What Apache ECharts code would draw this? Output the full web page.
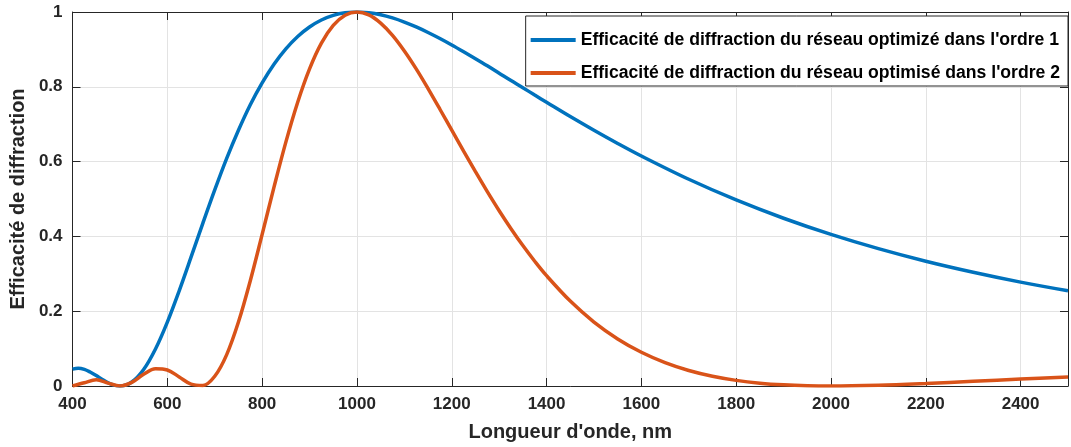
<!DOCTYPE html>
<html>
<head>
<meta charset="utf-8">
<script src="https://cdn.jsdelivr.net/npm/echarts@6/dist/echarts.min.js"></script>
<style>html,body{margin:0;padding:0;background:#fff;}#c{width:1071px;height:447px;}</style>
</head>
<body>
<div id="c"></div>
<script>
var wl1 = [400,412,425,437,450,462,475,487,500,525,550,575,600,625,650,675,700,725,750,775,800,825,850,875,900,925,950,975,1000,1025,1050,1075,1100,1125,1150,1175,1200,1225,1250,1275,1300,1325,1350,1375,1400,1450,1500,1550,1600,1700,1800,1900,2000,2100,2200,2300,2400,2500];
var eff1 = [0.0450,0.0473,0.0444,0.0375,0.0280,0.0182,0.0087,0.0025,0,0.0108,0.0442,0.0991,0.1710,0.2546,0.3444,0.4356,0.5243,0.6080,0.6839,0.7521,0.8106,0.8606,0.9016,0.9347,0.9600,0.9787,0.9909,0.9978,1.0,0.9980,0.9926,0.9841,0.9731,0.9600,0.9452,0.9291,0.9119,0.8938,0.8752,0.8562,0.8365,0.8167,0.7976,0.7779,0.7587,0.7205,0.6839,0.6486,0.6150,0.5528,0.4975,0.4485,0.4053,0.3672,0.3336,0.3041,0.2778,0.2546];
var wl2 = [400,425,450,475,500,525,550,575,600,625,650,675,700,725,750,775,800,825,850,875,900,925,950,975,1000,1025,1050,1075,1100,1125,1150,1175,1200,1225,1250,1275,1300,1325,1350,1375,1400,1450,1500,1550,1600,1650,1700,1750,1800,1850,1900,1950,2000,2100,2200,2300,2400,2500];
var eff2 = [0,0.0088,0.0165,0.0078,0,0.0098,0.0313,0.0461,0.0428,0.0243,0.0050,0.0015,0.0260,0.0833,0.1710,0.2816,0.4053,0.5316,0.6520,0.7587,0.8478,0.9166,0.9641,0.9914,1.0,0.9922,0.9702,0.9375,0.8957,0.8478,0.7951,0.7400,0.6839,0.6280,0.5729,0.5197,0.4687,0.4207,0.3755,0.3336,0.2949,0.2270,0.1710,0.1259,0.0901,0.0624,0.0414,0.0260,0.0150,0.0076,0.0031,0.0007,0,0.0021,0.0068,0.0126,0.0186,0.0243];
var name1 = "Efficacité de diffraction du réseau optimizé dans l'ordre 1";
var name2 = "Efficacité de diffraction du réseau optimisé dans l'ordre 2";
var xTitle = "Longueur d'onde, nm";
var yTitle = "Efficacité de diffraction";

function pairs(xs, ys){ return xs.map(function(x,i){ return [x, ys[i]]; }); }

var FONT = "'Liberation Sans', Arial, sans-serif";
var axisColor = '#262626';
var chart = echarts.init(document.getElementById('c'), null, {renderer:'canvas'});
chart.setOption({
  animation: false,
  backgroundColor: '#ffffff',
  grid: {left: 68, right: 3, top: 12, bottom: 61, containLabel: false},
  legend: {
    right: 3, top: 16, orient: 'vertical',
    backgroundColor: '#ffffff', borderColor: axisColor, borderWidth: 1,
    padding: [14, 8, 3, 5], itemGap: 13,
    itemWidth: 45, itemHeight: 4, icon: 'rect',
    textStyle: {fontFamily: FONT, fontWeight: 'bold', fontSize: 17.6, lineHeight: 20, color: '#000'},
    data: [name1, name2]
  },
  xAxis: [{
    type: 'value', min: 400, max: 2500, interval: 200,
    name: xTitle, nameLocation: 'middle', nameGap: 36,
    nameTextStyle: {fontFamily: FONT, fontWeight: 'bold', fontSize: 20, color: axisColor},
    axisLine: {show: true, onZero: false, lineStyle: {color: axisColor, width: 1}},
    axisTick: {show: true, inside: true, length: 8, lineStyle: {color: axisColor}},
    axisLabel: {fontFamily: FONT, fontWeight: 'bold', fontSize: 17, color: axisColor, margin: 10, showMaxLabel: false,
      formatter: function(v){ return String(v); }},
    splitLine: {show: true, lineStyle: {color: '#e3e3e3', width: 1}}
  },{
    type: 'value', min: 400, max: 2500, interval: 200, position: 'top',
    axisLine: {show: true, onZero: false, lineStyle: {color: axisColor, width: 1}},
    axisTick: {show: true, inside: true, length: 8, lineStyle: {color: axisColor}},
    axisLabel: {show: false}, splitLine: {show: false}
  }],
  yAxis: [{
    type: 'value', min: 0, max: 1, interval: 0.2,
    name: yTitle, nameLocation: 'middle', nameGap: 41, nameRotate: 90,
    nameTextStyle: {fontFamily: FONT, fontWeight: 'bold', fontSize: 20, color: axisColor},
    axisLine: {show: true, onZero: false, lineStyle: {color: axisColor, width: 1}},
    axisTick: {show: true, inside: true, length: 8, lineStyle: {color: axisColor}},
    axisLabel: {fontFamily: FONT, fontWeight: 'bold', fontSize: 17, color: axisColor, margin: 10},
    splitLine: {show: true, lineStyle: {color: '#e3e3e3', width: 1}}
  },{
    type: 'value', min: 0, max: 1, interval: 0.2, position: 'right',
    axisLine: {show: true, onZero: false, lineStyle: {color: axisColor, width: 1}},
    axisTick: {show: true, inside: true, length: 8, lineStyle: {color: axisColor}},
    axisLabel: {show: false}, splitLine: {show: false}
  }],
  series: [{
    name: name1, type: 'line', data: pairs(wl1, eff1), smooth: 0.35,
    showSymbol: false, symbol: 'none', color: '#0072BD',
    lineStyle: {color: '#0072BD', width: 3.5}
  },{
    name: name2, type: 'line', data: pairs(wl2, eff2), smooth: 0.35,
    showSymbol: false, symbol: 'none', color: '#D95319',
    lineStyle: {color: '#D95319', width: 3.5}
  }]
});
</script>
</body>
</html>
